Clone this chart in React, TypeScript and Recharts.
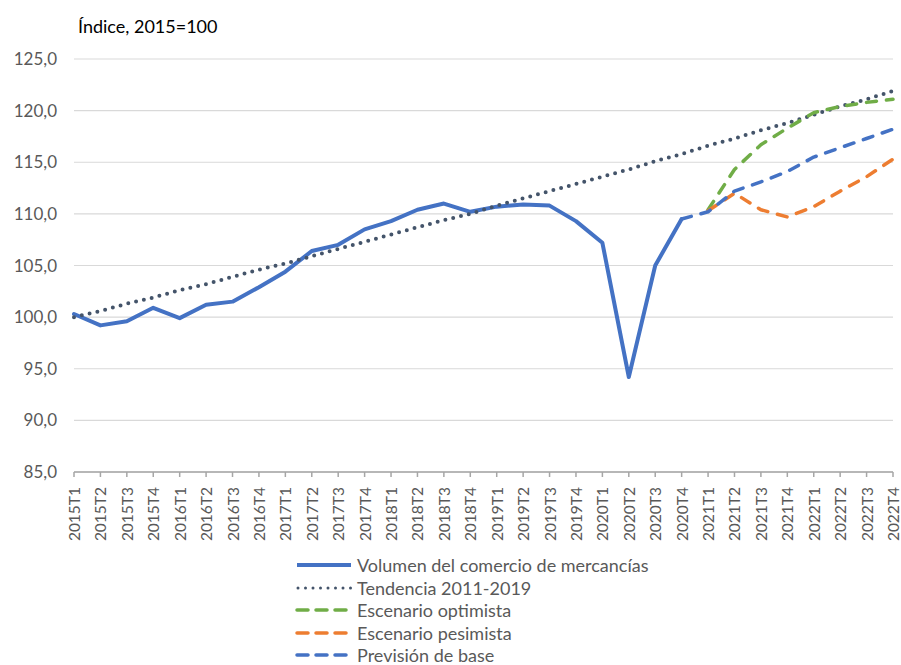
import { LineChart, Line, XAxis, YAxis, CartesianGrid, Legend } from "recharts";

const quarters = [
  "2015T1", "2015T2", "2015T3", "2015T4",
  "2016T1", "2016T2", "2016T3", "2016T4",
  "2017T1", "2017T2", "2017T3", "2017T4",
  "2018T1", "2018T2", "2018T3", "2018T4",
  "2019T1", "2019T2", "2019T3", "2019T4",
  "2020T1", "2020T2", "2020T3", "2020T4",
  "2021T1", "2021T2", "2021T3", "2021T4",
  "2022T1", "2022T2", "2022T3", "2022T4",
];

const volumen = [
  100.3, 99.2, 99.6, 100.9, 99.9, 101.2, 101.5, 102.9,
  104.4, 106.4, 107.0, 108.5, 109.3, 110.4, 111.0, 110.2,
  110.7, 110.9, 110.8, 109.3, 107.2, 94.2, 105.0, 109.5,
  null, null, null, null, null, null, null, null,
];

const tendencia = [
  100.0, 100.6, 101.3, 101.9, 102.6, 103.2, 103.9, 104.6,
  105.2, 105.9, 106.6, 107.3, 108.0, 108.7, 109.4, 110.0,
  110.8, 111.5, 112.2, 112.9, 113.6, 114.3, 115.1, 115.8,
  116.6, 117.3, 118.1, 118.8, 119.6, 120.4, 121.1, 121.9,
];

const optimista = [
  null, null, null, null, null, null, null, null,
  null, null, null, null, null, null, null, null,
  null, null, null, null, null, null, null, null,
  110.4, 114.3, 116.7, 118.3, 119.8, 120.4, 120.8, 121.1,
];

const pesimista = [
  null, null, null, null, null, null, null, null,
  null, null, null, null, null, null, null, null,
  null, null, null, null, null, null, null, null,
  110.3, 112.0, 110.4, 109.7, 110.7, 112.2, 113.6, 115.3,
];

const base = [
  null, null, null, null, null, null, null, null,
  null, null, null, null, null, null, null, null,
  null, null, null, null, null, null, null, 109.5,
  110.2, 112.2, 113.1, 114.1, 115.5, 116.4, 117.3, 118.2,
];

const yTicks = [85, 90, 95, 100, 105, 110, 115, 120, 125];

const rows = quarters.map((q, i) => ({
  q,
  volumen: volumen[i],
  tendencia: tendencia[i],
  optimista: optimista[i],
  pesimista: pesimista[i],
  base: base[i],
}));

const FONT = "Lato, 'Open Sans', sans-serif";
const GREY_TEXT = "#595959";

// line styles, shared by the lines and the legend icons
const series = [
  { key: "volumen", name: "Volumen del comercio de mercancías", color: "#4472C4", width: 4, dash: undefined, icon: undefined },
  { key: "tendencia", name: "Tendencia 2011-2019", color: "#44546A", width: 4, dash: "0 8", icon: "0 7.5" },
  { key: "optimista", name: "Escenario optimista", color: "#70AD47", width: 3.5, dash: "10 10", icon: "11 8" },
  { key: "pesimista", name: "Escenario pesimista", color: "#ED7D31", width: 3.5, dash: "10 10", icon: "11 8" },
  { key: "base", name: "Previsión de base", color: "#4472C4", width: 3.5, dash: "10 10", icon: "11 8" },
];

const fmt = (v: number) => v.toFixed(1).replace(".", ",");

const XTick = ({ x, y, payload }: any) => (
  <text
    x={x}
    y={y}
    transform={`rotate(-90 ${x} ${y})`}
    textAnchor="end"
    dominantBaseline="central"
    fontFamily={FONT}
    fontSize={15.5}
    fill={GREY_TEXT}
  >
    {payload.value}
  </text>
);

const LegendList = () => (
  <div style={{ paddingLeft: 295, fontFamily: FONT, fontSize: 18, color: GREY_TEXT }}>
    {series.map((s) => (
      <div key={s.key} style={{ height: 22.5, display: "flex", alignItems: "center" }}>
        <svg width={58} height={10} style={{ marginRight: 4 }}>
          <line
            x1={s.key === "tendencia" ? 3 : 2}
            y1={5}
            x2={56}
            y2={5}
            stroke={s.color}
            strokeWidth={s.key === "tendencia" ? 3 : s.width}
            strokeDasharray={s.icon}
            strokeLinecap={s.dash ? "round" : "butt"}
          />
        </svg>
        <span style={{ lineHeight: 1 }}>{s.name}</span>
      </div>
    ))}
  </div>
);

export default function App() {
  return (
    <div style={{ position: "fixed", top: 0, left: 0, width: 901, height: 665, overflow: "hidden", background: "#fff" }}>
      <div
        style={{
          position: "absolute",
          left: 78,
          top: 15,
          fontFamily: FONT,
          fontSize: 18,
          lineHeight: "22px",
          color: "#000",
        }}
      >
        Índice, 2015=100
      </div>
      <LineChart
        width={901}
        height={665}
        data={rows}
        margin={{ top: 59, right: 8, bottom: 0, left: 0 }}
      >
        <CartesianGrid vertical={false} stroke="#d9d9d9" strokeWidth={1.2} />
        <XAxis
          dataKey="q"
          interval={0}
          tick={<XTick />}
          tickSize={5}
          tickMargin={10}
          height={80.5}
          axisLine={{ stroke: "#a6a6a6", strokeWidth: 1.5 }}
          tickLine={{ stroke: "#a6a6a6", strokeWidth: 1.5 }}
        />
        <YAxis
          domain={[85, 125]}
          ticks={yTicks}
          width={74}
          axisLine={false}
          tickLine={false}
          tickMargin={11}
          tickFormatter={fmt}
          tick={{ fontFamily: FONT, fontSize: 17, fill: GREY_TEXT }}
        />
        <Legend
          layout="vertical"
          verticalAlign="bottom"
          align="center"
          content={<LegendList />}
          wrapperStyle={{ top: 554, left: 0, width: 901 }}
        />
        {series.map((s) => (
          <Line
            key={s.key}
            type="linear"
            dataKey={s.key}
            name={s.name}
            stroke={s.color}
            strokeWidth={s.width}
            strokeDasharray={s.dash}
            strokeLinecap="round"
            strokeLinejoin="round"
            dot={false}
            activeDot={false}
            connectNulls={false}
            isAnimationActive={false}
          />
        ))}
      </LineChart>
    </div>
  );
}
